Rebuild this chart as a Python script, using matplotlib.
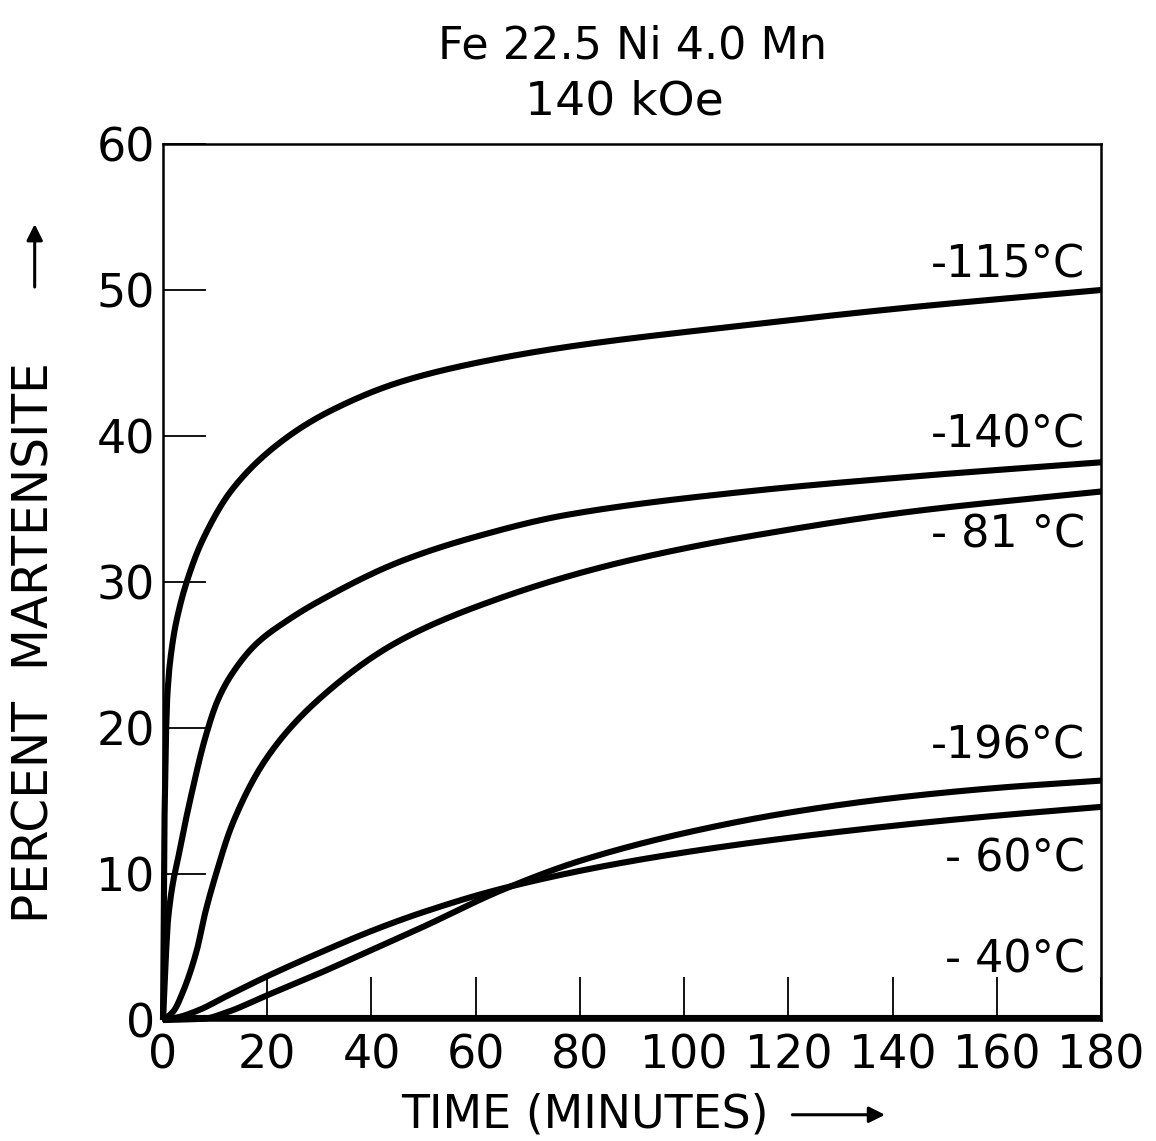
import matplotlib
matplotlib.use("Agg")
import matplotlib.pyplot as plt
from matplotlib.patches import FancyArrowPatch
import numpy as np

# Data (time in minutes, percent martensite)
t_115 = [0, 0.3, 0.8, 1.7, 3, 5, 7.5, 13.4, 23, 32, 45.5, 60, 77.5, 112, 143, 180]
y_115 = [0, 14, 22, 25.5, 28.0, 30.5, 32.8, 36.4, 39.7, 41.7, 43.7, 45.0, 46.1, 47.6, 48.8, 50.0]

t_140 = [0, 1, 3.3, 5.8, 8, 10.5, 13.4, 18, 24, 30, 45.5, 60, 77.5, 112, 143, 180]
y_140 = [0, 7.0, 11.8, 16.0, 19.2, 21.9, 23.8, 25.8, 27.4, 28.7, 31.4, 33.1, 34.6, 36.2, 37.2, 38.2]

t_81 = [0, 2, 3.9, 6.5, 8, 10, 13.4, 20, 30, 45.5, 64.7, 84, 100, 112, 143, 180]
y_81 = [0, 0.6, 2.0, 4.8, 7.2, 9.8, 13.5, 18.0, 22.0, 26.0, 28.9, 31.0, 32.3, 33.1, 34.8, 36.2]

t_196 = [0, 8, 12, 20, 30, 40, 50, 65, 80, 100, 120, 140, 160, 180]
y_196 = [0, 0.1, 0.5, 1.7, 3.2, 4.8, 6.4, 8.9, 10.9, 12.8, 14.2, 15.2, 15.9, 16.4]

t_60 = [0, 3, 7, 12, 20, 30, 40, 50, 65, 87, 112, 140, 160, 180]
y_60 = [0, 0.2, 0.7, 1.6, 3.0, 4.6, 6.1, 7.4, 9.0, 10.7, 12.1, 13.3, 14.0, 14.6]

t_40 = [0, 180]
y_40 = [0.15, 0.15]

series_labels = ["-115°C", "-140°C", "- 81 °C", "-196°C", "- 60°C", "- 40°C"]
label_y = [51.7, 40.1, 33.2, 18.8, 11.0, 4.1]

x_ticks = [0, 20, 40, 60, 80, 100, 120, 140, 160, 180]
y_ticks = [0, 10, 20, 30, 40, 50, 60]

title1 = "Fe 22.5 Ni 4.0 Mn"
title2 = "140 kOe"
xlabel = "TIME (MINUTES)"
ylabel = "PERCENT  MARTENSITE"

plt.rcParams['font.family'] = ['DejaVu Sans']

series = [(t_115, y_115), (t_140, y_140), (t_81, y_81),
          (t_196, y_196), (t_60, y_60), (t_40, y_40)]

fig = plt.figure(figsize=(11.56, 11.41), dpi=100)
ax = fig.add_axes([0.141, 0.106, 0.8115, 0.7678])


def smooth(t, y, n=600):
    """Monotone cubic (PCHIP) interpolation, only for drawing smooth curves."""
    t = np.asarray(t, float); y = np.asarray(y, float)
    h = np.diff(t); d = np.diff(y) / h
    m = np.zeros_like(y)
    for k in range(1, len(y) - 1):
        if d[k-1] * d[k] <= 0:
            m[k] = 0
        else:
            w1 = 2*h[k] + h[k-1]; w2 = h[k] + 2*h[k-1]
            m[k] = (w1 + w2) / (w1 / d[k-1] + w2 / d[k])
    m[0] = d[0]
    m[-1] = d[-1]
    tt = np.linspace(t[0], t[-1], n)
    tt = np.unique(np.concatenate([tt, t]))
    idx = np.clip(np.searchsorted(t, tt, side="right") - 1, 0, len(t) - 2)
    hh = h[idx]; s = (tt - t[idx]) / hh
    h00 = 2*s**3 - 3*s**2 + 1; h10 = s**3 - 2*s**2 + s
    h01 = -2*s**3 + 3*s**2; h11 = s**3 - s**2
    yy = h00*y[idx] + h10*hh*m[idx] + h01*y[idx+1] + h11*hh*m[idx+1]
    return tt, yy


for (t, y), lab, ly in zip(series, series_labels, label_y):
    tt, yy = smooth(t, y)
    ax.plot(tt, yy, color="black", lw=4.4, solid_capstyle="butt",
            solid_joinstyle="round", clip_on=False, zorder=3)
    ax.text(177, ly, lab, ha="right", va="center", fontsize=32, color="black")

ax.set_xlim(0, 180)
ax.set_ylim(0, 60)
ax.set_xticks(x_ticks)
ax.set_yticks(y_ticks)
ax.set_xticklabels([str(v) for v in x_ticks])
ax.set_yticklabels([str(v) for v in y_ticks])
ax.tick_params(axis="both", direction="in", length=31, width=1.3, labelsize=33, pad=6)
ax.tick_params(axis="x", pad=10)
for sp in ax.spines.values():
    sp.set_linewidth(1.8)

fig.text(0.547, 0.960, title1, ha="center", va="center", fontsize=32)
fig.text(0.540, 0.911, title2, ha="center", va="center", fontsize=34)

fig.text(0.506, 0.023, xlabel, ha="center", va="center", fontsize=33)
fig.add_artist(FancyArrowPatch((0.683, 0.023), (0.768, 0.023),
               transform=fig.transFigure, arrowstyle="-|>", mutation_scale=24,
               lw=2.2, color="black"))

fig.text(0.030, 0.437, ylabel, ha="center", va="center", rotation=90, fontsize=35)
fig.add_artist(FancyArrowPatch((0.030, 0.746), (0.030, 0.806),
               transform=fig.transFigure, arrowstyle="-|>", mutation_scale=24,
               lw=2.2, color="black"))

fig.savefig("out.png", dpi=100, facecolor="white")
